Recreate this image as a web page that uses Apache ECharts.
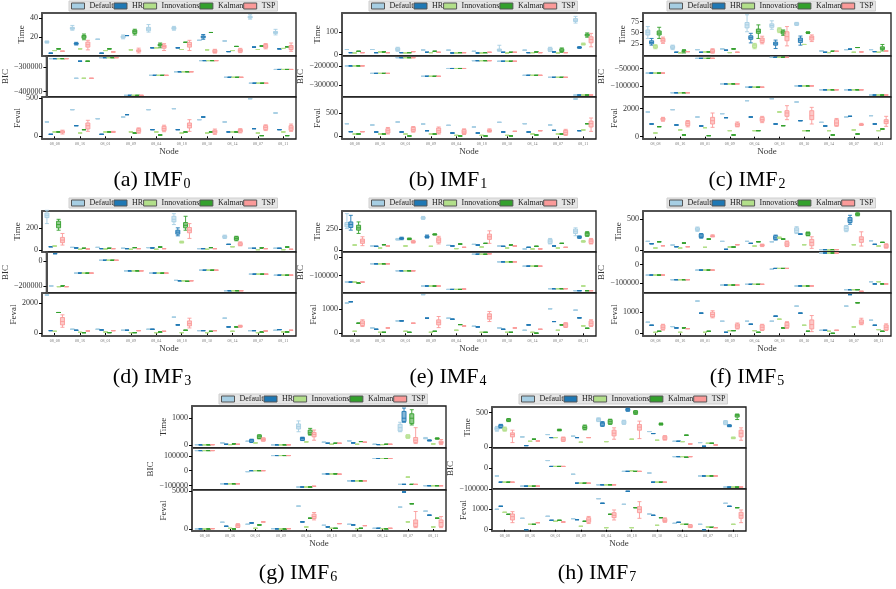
<!DOCTYPE html>
<html>
<head>
<meta charset="utf-8">
<script src="https://cdn.jsdelivr.net/npm/echarts@6/dist/echarts.min.js"></script>
<style>
  html, body { margin: 0; padding: 0; background: #fff; }
  #chart { width: 896px; height: 589px; }
</style>
</head>
<body>
<div id="chart"></div>
<script>
// Node categories shared by every panel
const NODES = ['08_08', '08_16', '08_01', '08_09', '08_04', '08_18', '08_10', '08_14', '08_07', '08_11'];
const METHODS = ['Default', 'HR', 'Innovations', 'Kalman', 'TSP'];

// Each panel: one row per method (Default, HR, Innovations, Kalman, TSP), one entry per node.
// An entry is either a single value or [min, Q1, median, Q3, max].

// ---------- IMF0 ----------
const imf0Time = [
  [[13.5, 14, 14.6, 15.3, 15.7], [27, 28, 29, 30, 32], 17.5, [18, 19, 20, 21, 22], [25, 26.4, 28.2, 30, 32.9], [27, 28, 29, 30, 31], 16.4, 15.7, [38.6, 39.8, 40.7, 41.6, 43.2], [22.1, 23.6, 24.6, 25.7, 27.9]],
  [2.9, [11.5, 12.3, 12.9, 13.5, 14.3], 2.9, 21.4, 8.6, 8.6, [17.5, 19, 20, 21, 22.5], 4.6, 9.3, 7.5],
  [5.7, 7.5, 5.7, 6.4, 8.6, 6.8, 6.4, 5.7, 6.8, 7.9],
  [7.5, [17, 18.5, 20, 21.5, 23], 7.5, [22, 23.6, 25.4, 27.1, 28], [8.6, 10.5, 11.4, 12.5, 13.6], 14.3, 24.6, 10, 10.4, 9.6],
  [5, [6.4, 9.3, 11.8, 14.6, 16.4], 4.3, [3.2, 4.5, 5.4, 6.5, 8.2], [5.7, 8.2, 10, 11.4, 12.9], [5.7, 9.3, 11.8, 14.3, 16.4], [3, 3.6, 5, 6.4, 7], [3.5, 4.3, 5.7, 7.1, 8], [7.5, 8.6, 10.4, 12.1, 13], [5, 6.8, 9.3, 11, 13.6]]
];
const imf0Bic = [
  [-266700, -346700, -262700, -416000, -334700, -320000, -274700, -342700, -366700, -310700],
  [-266700, -277300, -262700, -416000, -334700, -320000, -274700, -342700, -366700, -310700],
  [-266700, -346700, -262700, -416000, -334700, -320000, -274700, -342700, -366700, -310700],
  [-266700, -277300, -262700, -416000, -334700, -320000, -274700, -342700, -366700, -310700],
  [-266700, -346700, -262700, -416000, -334700, -320000, -274700, -342700, -366700, -310700]
];
const imf0Feval = [
  [187, 348, 230, 252, 348, 361, 217, 187, 491, 304],
  [26, 139, 26, 283, 87, 87, 252, 57, 100, 87],
  [57, 43, 57, 57, 57, 43, 43, 57, 43, 57],
  [57, 87, 57, 43, 17, 57, 57, 57, 9, 9],
  [[30, 45, 57, 70, 80], [65, 96, 139, 174, 209], [50, 53, 57, 62, 65], [40, 52, 78, 100, 110], [60, 74, 100, 130, 145], [65, 109, 143, 174, 217], [25, 40, 61, 80, 95], [45, 55, 74, 90, 100], [75, 87, 117, 139, 150], [65, 78, 109, 139, 160]]
];

// ---------- IMF1 ----------
const imf1Time = [
  [23, 23, [15, 18, 24, 30, 33], 21, 20, 15, [15, 18, 21, 25, 42], 20, [14, 17, 24, 30, 33], [141, 148, 154, 161, 171]],
  [9, 9, 9, 10.6, 7.6, 7.6, 10.6, 9, 12, [28, 30, 32, 34, 36]],
  [7.6, 12, 7.6, 9, 7.6, 7.6, 7.6, 9, 7.6, [43, 45, 47, 49, 52]],
  [15, 12, 9, 15, 9, 9, 10.6, 12, [10, 14, 20, 26, 30], [78, 83, 88, 92, 97]],
  [9, 9, 13.6, 10.6, 9, 10.6, 10.6, 9, 9, [35, 53, 68, 80, 95]]
];
const imf1Bic = [
  [-200000, -239000, -157600, -254000, -213600, -173000, -176300, -249000, -259300, -351000],
  [-200000, -239000, -157600, -254000, -213600, -173000, -176300, -249000, -259300, -351000],
  [-200000, -239000, -157600, -254000, -213600, -173000, -176300, -249000, -259300, -351000],
  [-200000, -239000, -157600, -254000, -213600, -173000, -176300, -249000, -259300, -351000],
  [-200000, -239000, -157600, -254000, -213600, -173000, -176300, -249000, -259300, -351000]
];
const imf1Feval = [
  [271, 243, 307, 264, 236, 200, 300, 271, 243, 800],
  [100, 93, 93, 121, 71, 71, 93, 93, 128, 121],
  [50, 50, 50, 50, 21, 21, 21, 50, 50, 136],
  [50, 50, 7, 50, 7, 7, 7, 29, 50, 271],
  [100, [50, 71, 121, 164, 190], [90, 107, 143, 193, 210], [50, 71, 121, 178, 200], [40, 57, 93, 143, 160], [90, 105, 121, 140, 160], 107, 121, [20, 36, 86, 128, 150], [107, 200, 271, 328, 393]]
];

// ---------- IMF2 ----------
const imf2Time = [
  [[37, 44.7, 50.8, 56, 63.6], [12, 14.4, 17.4, 20.4, 22], 12, 13.6, [52, 60.6, 67.4, 72.7, 90], [57.6, 62, 66, 69.7, 76.5], [66, 67.4, 69.7, 72, 73], 9, 12, 12],
  [[22, 25, 28, 31.8, 37], 6, 6, 10.6, [27, 35, 38.6, 43, 48.5], [14.4, 22, 25, 28.8, 33.3], [22, 28, 33, 37.9, 42.4], 6, 13, 7.5],
  [[14, 15.9, 18, 21.2, 23], 5, 6.8, 5.3, [14, 16.6, 20.4, 24, 26], [50, 52, 56, 59, 61], 23.5, 5.3, 6, 6],
  [[37, 44.7, 49, 53.8, 62], [4.5, 7, 8.3, 10, 12], 6.8, 13.6, [37, 48.5, 53, 58, 67.4], [44, 47, 51, 53.8, 56], [48, 49, 50, 51, 52], 8.3, 16.7, [9, 12, 15, 18.2, 23.5]],
  [[26, 28.8, 33, 37, 40], 7.5, [4, 5.3, 8.3, 12, 14], 6, [25, 28, 33, 37.9, 42], [20.4, 31.8, 41, 52, 63.6], [30, 33.3, 38.6, 42.4, 45], 8.3, 6.8, 9]
];
const imf2Bic = [
  [-63200, -119800, -20800, -94300, -103800, -18000, -100000, -111300, -111300, -126400],
  [-63200, -119800, -20800, -94300, -103800, -18000, -100000, -111300, -111300, -126400],
  [-63200, -119800, -20800, -94300, -103800, -18000, -100000, -111300, -111300, -126400],
  [-63200, -119800, -20800, -94300, -103800, -18000, -100000, -111300, -111300, -126400],
  [-63200, -119800, -20800, -94300, -103800, -18000, -100000, -111300, -111300, -126400]
];
const imf2Feval = [
  [1761, 1928, 1404, 1642, 2570, 2713, 2475, 1023, 1404, 1500],
  [905, 833, 762, 1357, 1404, 905, 1142, 762, 1452, 905],
  [262, 476, 643, 428, 428, 1761, 428, 428, 476, 428],
  [714, 119, 71, 119, 428, 785, 428, 119, 190, 547],
  [[1100, 1166, 1262, 1333, 1380], [700, 785, 952, 1095, 1150], [666, 904, 1142, 1380, 1690], [700, 738, 857, 976, 1050], [1000, 1095, 1214, 1380, 1450], [1214, 1452, 1690, 1856, 2213], [904, 1214, 1500, 1856, 2094], [740, 785, 976, 1214, 1300], [800, 830, 857, 900, 950], [738, 928, 1095, 1214, 1452]]
];

// ---------- IMF3 ----------
const imf3Time = [
  [[238, 291, 312, 332, 356], 26, 26, 18, 24, [229, 253, 276, 303, 326], 15, [105, 112, 120, 129, 135], 18, 18],
  [32, 21, 15, 15, 21, [129, 144, 162, 179, 200], 15, 53, 18, 18],
  [38, 9, 12, 9, 9, [65, 68, 73, 78, 82], 9, 32, 6, 6],
  [[179, 200, 229, 259, 276], 18, 18, 24, 29, [179, 200, 223, 247, 303], 24, [85, 91, 106, 120, 125], 21, 29],
  [[47, 68, 91, 115, 150], 12, 15, 15, 15, [106, 156, 179, 203, 238], 15, [40, 44, 56, 68, 75], 15, 9]
];
const imf3Bic = [
  [-197000, -96000, 5000, -78000, -96000, -153000, -73000, -234000, -104000, -112000],
  [57000, -96000, 5000, -78000, -96000, -156000, -73000, -234000, -104000, -112000],
  [-202000, -96000, 5000, -78000, -96000, -156000, -73000, -234000, -104000, -112000],
  [-197000, -96000, 5000, -78000, -96000, -160000, -73000, -234000, -104000, -112000],
  [-202000, -96000, 5000, -78000, -96000, -156000, -73000, -234000, -104000, -112000]
];
const imf3Feval = [
  [2542, 247, 247, 180, 247, 1057, 157, 990, 157, 180],
  [158, 180, 202, 180, 247, 540, 157, 405, 157, 225],
  [112, 45, 67, 22, 22, 22, 22, 112, 22, 67],
  [1372, 20, 22, 22, 67, 180, 112, 405, 67, 67],
  [[382, 540, 765, 1035, 1215], 135, 157, 157, 112, [337, 472, 630, 810, 990], 157, [380, 410, 450, 490, 520], 135, 180]
];

// ---------- IMF4 ----------
const imf4Time = [
  [[257, 277, 304, 328, 433], 51, [120, 125, 129, 135, 140], [365, 372, 382, 392, 400], 58, 70, 51, 16, [75, 82, 109, 129, 140], [172, 199, 226, 250, 265]],
  [[238, 269, 304, 335, 413], 47, [125, 132, 140, 148, 155], [145, 150, 160, 170, 180], 51, 62, 47, 35, 51, [140, 148, 156, 164, 170]],
  [62, 27, 51, 47, 20, 39, 27, 16, 27, [95, 100, 105, 110, 115]],
  [[199, 238, 265, 296, 335], 66, [125, 128, 133, 140, 145], [180, 183, 187, 192, 195], 74, 82, 62, 47, 82, [165, 172, 195, 211, 220]],
  [[55, 82, 109, 133, 160], 51, [85, 92, 101, 110, 118], [75, 90, 121, 148, 165], 35, [82, 129, 160, 191, 230], 51, 16, 35, [75, 82, 109, 129, 140]]
];
const imf4Bic = [
  [-137000, -35000, -74000, -159000, -178000, 18500, -24000, -48000, -174000, -185000],
  [-137000, -35000, -74000, -159000, -178000, 18500, -24000, -48000, -174000, -185000],
  [-137000, -35000, -74000, -159000, -178000, 18500, -24000, -48000, -174000, -159000],
  [-142000, -35000, -74000, -159000, -178000, 18500, -24000, -48000, -174000, -185000],
  [-137000, -35000, -74000, -159000, -176000, 21000, -24000, -48000, -174000, -185000]
];
const imf4Feval = [
  [1250, 222, 514, 1600, 625, 292, 222, 125, 1014, 958],
  [1306, 167, 514, 625, 583, 264, 167, 347, 486, 639],
  [83, 42, 83, 42, 125, 42, 42, 42, 125, 306],
  [417, 42, 42, 83, 361, 42, 42, 5, 347, 208],
  [[280, 320, 417, 514, 560], 222, 417, [236, 347, 458, 556, 695], 306, [486, 584, 694, 806, 903], 222, 167, [240, 264, 347, 417, 440], [280, 306, 417, 514, 560]]
];

// ---------- IMF5 ----------
const imf5Time = [
  [144, 85, [305, 319, 340, 362, 375], 144, 144, 138, [270, 282, 324, 362, 380], 11, [300, 314, 351, 388, 400], 154],
  [106, 58, [195, 207, 229, 261, 270], 16, 112, [165, 176, 202, 234, 245], 261, 11, [420, 447, 484, 527, 564], 96],
  [37, 37, 48, 53, 69, [190, 195, 202, 210, 215], 90, 5, 90, 69],
  [138, 117, 181, 53, 138, 181, [234, 240, 266, 290, 293], 11, [555, 564, 580, 596, 605], 128],
  [74, 58, [215, 222, 229, 236, 250], 90, [60, 70, 80, 92, 100], [60, 69, 101, 138, 150], [32, 74, 128, 176, 218], 11, [69, 128, 176, 218, 298], [35, 43, 69, 96, 105]]
];
const imf5Bic = [
  [-57000, -82000, -30000, -111000, -107000, -25000, -116000, 62500, -136000, -93000],
  [-57000, -82000, -30000, -111000, -107000, -21000, -116000, 62500, -136000, -105000],
  [-57000, -82000, -30000, -111000, -107000, -21000, -116000, 62500, -136000, -93000],
  [-57000, -82000, -30000, -111000, -107000, -21000, -116000, 62500, -136000, -105000],
  [-57000, -82000, -30000, -111000, -107000, -21000, -116000, 62500, -145000, -105000]
];
const imf5Feval = [
  [515, 312, 1500, 562, 562, 562, 1265, 140, 1265, 609],
  [375, 250, 937, 47, 422, 797, 937, 140, 1800, 375],
  [47, 47, 47, 125, 125, 656, 375, 94, 297, 172],
  [94, 250, 94, 125, 47, 250, 94, 0, 1420, 94],
  [[150, 187, 281, 390, 420], 218, [720, 764, 875, 983, 1050], [200, 234, 344, 437, 480], [130, 156, 281, 390, 420], [230, 265, 375, 499, 540], [78, 203, 406, 624, 827], 140, [400, 437, 515, 624, 700], [130, 156, 281, 390, 440]]
];

// ---------- IMF6 ----------
const imf6Time = [
  [10, 76, 139, 5, [494, 595, 684, 785, 899], 101, 152, 25, [494, 519, 646, 772, 848], [230, 240, 253, 265, 280]],
  [5, 25, [90, 101, 152, 203, 215], 5, [165, 177, 240, 278, 290], 63, 76, 13, [848, 873, 1000, 1253, 1380], [150, 155, 165, 180, 190]],
  [5, 13, 76, 5, 114, 25, 25, 13, [250, 266, 304, 367, 380], 38],
  [5, 38, [230, 240, 304, 367, 380], 5, [367, 392, 456, 557, 620], 63, 127, 25, [747, 798, 1000, 1165, 1317], [215, 225, 240, 255, 265]],
  [10, 25, [140, 152, 203, 253, 265], 5, [177, 304, 392, 468, 557], 63, 101, 25, [51, 89, 177, 278, 646], [13, 51, 89, 139, 203]]
];
const imf6Bic = [
  [135500, -89000, -6700, 102000, -111000, -22000, -69000, 82000, -93000, -102000],
  [135500, -89000, 0, 102000, -111000, -22000, -69000, 82000, -93000, -102000],
  [135500, -89000, 0, 102000, -111000, -22000, -69000, 82000, -44000, -102000],
  [135500, -89000, 0, 102000, -111000, -22000, -69000, 82000, -93000, -102000],
  [135500, -89000, 0, 102000, -106000, -24000, -69000, 82000, -93000, -102000]
];
const imf6Feval = [
  [20, 892, 624, 45, 3033, 491, 624, 89, 2900, 2364],
  [20, 357, 803, 20, 937, 268, 535, 89, 4906, 1829],
  [0, 89, 89, 0, 268, 89, 45, 45, 937, 268],
  [0, 0, 535, 0, 1427, 89, 89, 20, 3345, 1427],
  [45, [200, 223, 446, 624, 700], 937, 45, [1204, 1383, 1650, 1962, 2185], 714, 446, 89, [178, 312, 758, 1204, 2319], [178, 312, 847, 1204, 1650]]
];

// ---------- IMF7 ----------
const imf7Time = [
  [[230, 245, 270, 289, 300], 147, 181, 157, [370, 377, 397, 416, 425], [330, 338, 363, 382, 390], 225, 83, 64, [325, 333, 353, 377, 385]],
  [[275, 284, 309, 323, 330], 20, 137, 137, [300, 309, 338, 358, 370], [520, 529, 544, 559, 565], 196, 83, 10, [295, 300, 309, 318, 325]],
  [[230, 240, 260, 279, 290], 83, 137, 69, 78, 113, 98, 78, 54, [120, 125, 132, 140, 145]],
  [[370, 377, 392, 407, 415], 113, [235, 240, 245, 255, 260], [250, 260, 284, 309, 320], [330, 338, 368, 397, 405], [475, 485, 505, 524, 530], [320, 325, 333, 342, 350], 171, 54, [400, 436, 456, 475, 480]],
  [[64, 147, 181, 206, 245], 88, [80, 88, 113, 137, 145], 137, [113, 162, 201, 245, 279], [122, 245, 289, 328, 377], [100, 108, 132, 157, 165], 44, 29, [98, 147, 201, 245, 279]]
];
const imf7Bic = [
  [-39000, -87500, 34400, -31000, -81000, -17200, -25000, 53000, -39000, -92000],
  [-68700, -87500, 6250, -73400, -81000, -17200, -68700, 53000, -39000, -92000],
  [-68700, -87500, 6250, -73400, -81000, -14000, -68700, 53000, -39000, -92000],
  [-68700, -87500, 6250, -73400, -81000, -17200, -68700, 50000, -39000, -92000],
  [-68700, -87500, 6250, -73400, -81000, -17200, -68700, 53000, -39000, -92000]
];
const imf7Feval = [
  [1000, 558, 656, 541, 1525, 1246, 771, 312, 262, 1296],
  [1148, 0, 459, 492, 1296, 1886, 705, 361, 0, 1148],
  [853, 262, 410, 164, 98, 98, 213, 262, 131, 262],
  [754, 262, 459, 410, 754, 1082, 590, 262, 115, 1082],
  [[344, 476, 640, 771, 886], 344, 377, [300, 361, 476, 590, 650], [476, 590, 705, 836, 968], [558, 836, 1000, 1132, 1378], [360, 394, 459, 541, 580], [100, 115, 164, 230, 250], 98, [344, 558, 705, 853, 968]]
];

// Y-axis tick values per IMF
const TIME_TICKS  = [[20, 40], [0, 100], [25, 50, 75], [0, 200], [0, 250], [0, 500], [0, 1000], [0, 500]];
const BIC_TICKS   = [[-300000, -400000], [-200000, -300000], [-50000, -100000], [0, -200000], [0, -100000], [0, -100000], [100000, 0, -100000], [0, -100000]];
const FEVAL_TICKS = [[0, 500], [0, 500], [0, 2000], [0, 2000], [0, 1000], [0, 1000], [0, 5000], [0, 1000]];

// Y-axis value ranges per IMF
const TIME_RANGE  = [[0, 45], [-6, 186], [-2.3, 94], [-15, 350], [-20, 464], [-27, 633], [-114, 1456], [-15, 583]];
const BIC_RANGE   = [[-422700, -256000], [-361000, -149000], [-132000, -14000], [-252000, 70000], [-198000, 31000], [-154000, 68000], [-131000, 153000], [-101000, 94000]];
const FEVAL_RANGE = [[-35, 513], [-57, 843], [-167, 2833], [-202, 2677], [-111, 1667], [-125, 1875], [-268, 5170], [-66, 2000]];

const TIME_DATA  = [imf0Time, imf1Time, imf2Time, imf3Time, imf4Time, imf5Time, imf6Time, imf7Time];
const BIC_DATA   = [imf0Bic, imf1Bic, imf2Bic, imf3Bic, imf4Bic, imf5Bic, imf6Bic, imf7Bic];
const FEVAL_DATA = [imf0Feval, imf1Feval, imf2Feval, imf3Feval, imf4Feval, imf5Feval, imf6Feval, imf7Feval];

// ---------- styling and layout ----------
const FONT = 'Liberation Serif';
const COLORS = ['#a6cee3', '#1f78b4', '#b2df8a', '#33a02c', '#fb9a99'];
function rgba(hex, a) {
  const n = parseInt(hex.slice(1), 16);
  return 'rgba(' + (n >> 16) + ',' + ((n >> 8) & 255) + ',' + (n & 255) + ',' + a + ')';
}

// subplot frames: x-range of plot area, panel boundaries (top..bottom), legend row, caption centre
const FRAMES = [
  { x0: 42,  x1: 296, ys: [13, 56, 97, 139],    legendTop: 1,   cap: [152, 180] },
  { x0: 342, x1: 596, ys: [13, 56, 97, 139],    legendTop: 1,   cap: [448, 180] },
  { x0: 643, x1: 891, ys: [13, 56, 97, 139],    legendTop: 1,   cap: [747, 180] },
  { x0: 42,  x1: 296, ys: [211, 252, 293, 336], legendTop: 198, cap: [152, 377] },
  { x0: 342, x1: 596, ys: [211, 252, 293, 336], legendTop: 198, cap: [448, 377] },
  { x0: 643, x1: 891, ys: [211, 252, 293, 336], legendTop: 198, cap: [747, 377] },
  { x0: 192, x1: 446, ys: [406, 448, 490, 531], legendTop: 394, cap: [298, 573] },
  { x0: 492, x1: 746, ys: [407, 448, 489, 531], legendTop: 394, cap: [597, 573] }
];
const LETTERS = 'abcdefgh';

const fmtTick = v => (v < 0 ? '\u2212' + (-v) : String(v));
const toBox = v => (Array.isArray(v) ? v : [v, v, v, v, v]);

const grids = [], xAxes = [], yAxes = [], series = [], legends = [], graphics = [];

FRAMES.forEach((F, s) => {
  const panels = [
    { name: 'Time',  data: TIME_DATA[s],  ticks: TIME_TICKS[s],  range: TIME_RANGE[s] },
    { name: 'BIC',   data: BIC_DATA[s],   ticks: BIC_TICKS[s],   range: BIC_RANGE[s] },
    { name: 'Feval', data: FEVAL_DATA[s], ticks: FEVAL_TICKS[s], range: FEVAL_RANGE[s] }
  ];
  panels.forEach((P, p) => {
    const gi = grids.length;
    const last = p === 2;
    grids.push({
      left: F.x0, top: F.ys[p], width: F.x1 - F.x0, height: F.ys[p + 1] - F.ys[p],
      show: true, borderColor: '#1a1a1a', borderWidth: 1.3, backgroundColor: '#fff'
    });
    xAxes.push({
      type: 'category', gridIndex: gi, data: NODES,
      axisLine: { show: false },
      axisTick: { show: last, alignWithLabel: true, length: 2, lineStyle: { color: '#000', width: 1 } },
      axisLabel: { show: last, interval: 0, fontSize: 4, color: '#777', margin: 3, fontFamily: FONT },
      splitLine: { show: false },
      name: last ? 'Node' : '', nameLocation: 'middle', nameGap: 5,
      nameTextStyle: { fontFamily: FONT, fontSize: 9, color: '#333' }
    });
    const maxLen = Math.max.apply(null, P.ticks.map(t => fmtTick(t).length));
    yAxes.push({
      type: 'value', gridIndex: gi, min: P.range[0], max: P.range[1],
      splitLine: { show: false },
      axisLine: { show: true, onZero: false, lineStyle: { color: '#4d4d4d', width: 2 } },
      axisTick: { show: true, customValues: P.ticks, length: 3, lineStyle: { color: '#000', width: 1 } },
      axisLabel: { customValues: P.ticks, formatter: fmtTick, fontFamily: FONT, fontSize: 8, color: '#333', margin: 4 },
      name: P.name, nameLocation: 'middle', nameRotate: 90, nameGap: maxLen * 4,
      nameTextStyle: { fontFamily: FONT, fontSize: 9, color: '#333' }
    });
    P.data.forEach((row, k) => {
      series.push({
        type: 'boxplot', name: METHODS[k], xAxisIndex: gi, yAxisIndex: gi,
        data: row.map(toBox),
        boxWidth: [4, 4],
        itemStyle: { color: rgba(COLORS[k], 0.55), borderColor: rgba(COLORS[k], 0.9), borderWidth: 1 },
        emphasis: { disabled: true }, silent: true, animation: false
      });
    });
  });

  legends.push({
    left: Math.round((F.x0 + F.x1) / 2 - 100), top: F.legendTop,
    orient: 'horizontal', icon: 'rect', selectedMode: false,
    itemWidth: 13, itemHeight: 6, itemGap: 0, padding: [1, 2],
    backgroundColor: '#e5e5e5', borderColor: '#cfcfcf', borderWidth: 1,
    textStyle: { fontFamily: FONT, fontSize: 8, color: '#1a1a1a' },
    data: METHODS.map((m, k) => ({ name: m, itemStyle: { color: COLORS[k], borderColor: '#555', borderWidth: 1 } }))
  });

  graphics.push({
    type: 'text', x: F.cap[0], y: F.cap[1], silent: true,
    style: {
      text: '(' + LETTERS[s] + ') IMF{s|' + s + '}',
      fontFamily: FONT, fontSize: 22, fill: '#000', align: 'center', verticalAlign: 'middle',
      rich: { s: { fontFamily: FONT, fontSize: 14, fill: '#000', verticalAlign: 'bottom', padding: [0, 0, 0, 1] } }
    }
  });
});

const chart = echarts.init(document.getElementById('chart'), null, { renderer: 'canvas' });
chart.setOption({
  animation: false,
  backgroundColor: '#fff',
  textStyle: { fontFamily: FONT },
  grid: grids, xAxis: xAxes, yAxis: yAxes,
  legend: legends, series: series, graphic: graphics
});
</script>
</body>
</html>
